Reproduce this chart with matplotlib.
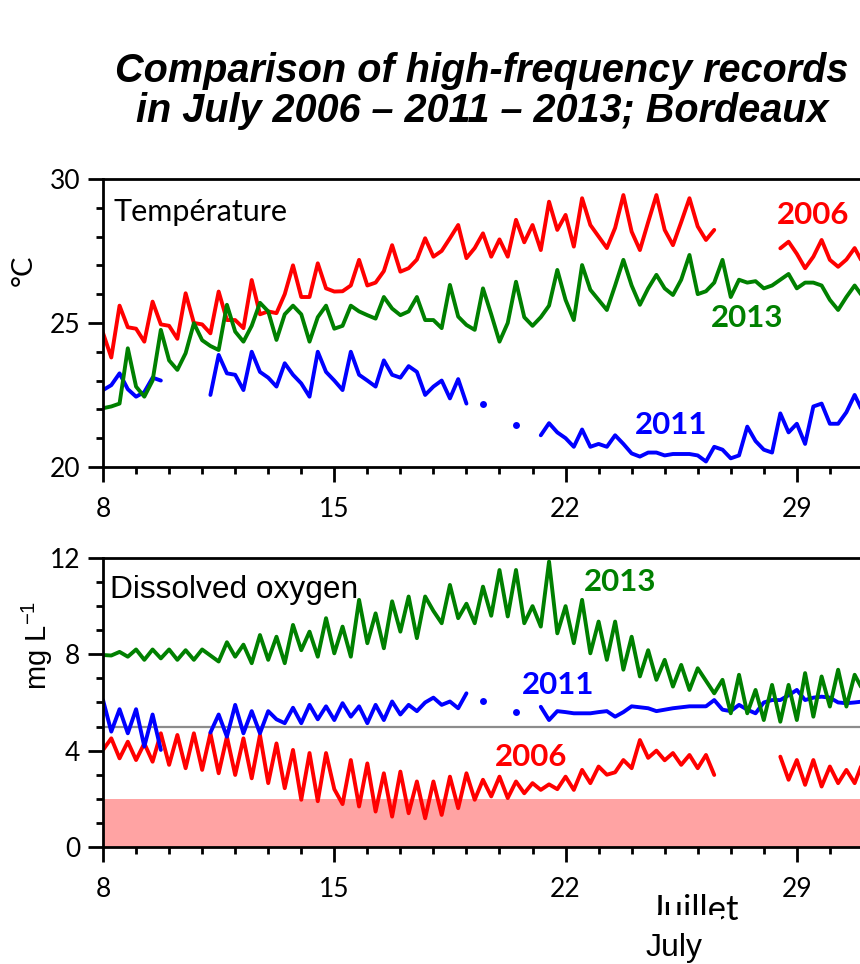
import numpy as np
import matplotlib
matplotlib.use("Agg")
import matplotlib.pyplot as plt

nan = np.nan

# time grid: every 6 h, 8 -> 31 July
t = np.arange(8, 31.001, 0.25)

# temperature (degC), one row per day (0h, 6h, 12h, 18h)
temp_2006 = [24.65, 23.8, 25.6, 24.85,  24.8, 24.35, 25.74, 24.95,  24.9, 24.45, 26.03, 25.0,
             24.95, 24.64, 26.09, 25.1,  25.1, 24.82, 26.49, 25.3,  25.4, 25.34, 26.0, 27.0,
             25.9, 25.9, 27.07, 26.2,  26.09, 26.1, 26.3, 27.19,  26.3, 26.4, 26.8, 27.7,
             26.78, 26.9, 27.2, 27.94,  27.3, 27.5, 27.94, 28.4,  27.25, 27.6, 28.11, 27.3,
             27.9, 27.3, 28.58, 27.8,  28.4, 27.53, 29.21, 28.23,  28.75, 27.65, 29.33, 28.4,
             28.0, 27.6, 28.3, 29.44,  28.17, 27.53, 28.5, 29.44,  28.23, 27.7, 28.5, 29.33,
             28.35, 27.88, 28.23, nan,  nan, nan, nan, nan,  nan, nan, 27.59, 27.82,
             27.4, 26.9, 27.3, 27.88,  27.19, 26.95, 27.2, 27.6,  27.07]
temp_2011 = [22.67, 22.84, 23.25, 22.7,  22.44, 22.6, 23.1, 23.0,  nan, nan, nan, nan,
             nan, 22.5, 23.89, 23.25,  23.2, 22.67, 24.0, 23.3,  23.1, 22.79, 23.6, 23.2,
             22.9, 22.44, 24.0, 23.3,  23.0, 22.67, 24.0, 23.2,  23.0, 22.79, 23.7, 23.2,
             23.1, 23.5, 23.3, 22.5,  22.79, 23.0, 22.38, 23.05,  22.2, nan, 22.2, nan,
             nan, nan, 21.46, nan,  nan, 21.1, 21.52, 21.2,  21.0, 20.7, 21.3, 20.7,
             20.8, 20.7, 21.1, 20.8,  20.47, 20.36, 20.5, 20.5,  20.4, 20.45, 20.45, 20.45,
             20.4, 20.19, 20.7, 20.6,  20.3, 20.4, 21.4, 20.9,  20.6, 20.5, 21.86, 21.2,
             21.5, 20.8, 22.1, 22.2,  21.5, 21.5, 21.9, 22.5,  21.9]
temp_2013 = [22.04, 22.1, 22.2, 24.12,  22.79, 22.44, 23.0, 24.76,  23.7, 23.37, 23.95, 24.99,
             24.4, 24.2, 24.06, 25.63,  24.7, 24.35, 24.9, 25.7,  25.4, 24.41, 25.3, 25.6,
             25.3, 24.35, 25.2, 25.6,  24.8, 24.9, 25.6, 25.4,  25.27, 25.15, 25.9, 25.5,
             25.27, 25.4, 25.9, 25.1,  25.1, 24.82, 26.32, 25.22,  24.93, 24.76, 26.2, 25.3,
             24.35, 25.0, 26.43, 25.2,  24.9, 25.2, 25.6, 26.84,  25.8, 25.1, 27.01, 26.15,
             25.8, 25.45, 26.3, 27.19,  26.3, 25.63, 26.2, 26.67,  26.2, 25.97, 26.5, 27.36,
             26.0, 26.1, 26.4, 27.19,  25.9, 26.5, 26.4, 26.45,  26.2, 26.3, 26.5, 26.7,
             26.2, 26.4, 26.4, 26.3,  25.8, 25.45, 25.9, 26.3,  25.9]

# dissolved oxygen (mg/L)
o2_2006 = [4.03, 4.51, 3.68, 4.37,  3.61, 4.3, 3.54, 4.72,  3.41, 4.65, 3.27, 4.72,
           3.2, 4.72, 3.06, 4.58,  2.99, 4.51, 2.85, 4.65,  2.65, 4.3, 2.44, 4.03,
           1.96, 3.9, 1.9, 3.9,  2.4, 1.78, 3.61, 1.68,  3.47, 1.47, 3.06, 1.26,
           3.13, 1.4, 2.72, 1.19,  2.72, 1.33, 2.92, 1.61,  3.06, 1.96, 2.79, 2.1,
           2.92, 2.03, 2.72, 2.23,  2.65, 2.37, 2.6, 2.4,  2.92, 2.37, 3.2, 2.65,
           3.34, 3.0, 3.1, 3.61,  3.27, 4.44, 3.7, 4.0,  3.6, 3.9, 3.41, 3.82,
           3.27, 3.82, 2.99, nan,  nan, nan, nan, nan,  nan, nan, 3.75, 2.79,
           3.61, 2.58, 3.61, 2.51,  3.34, 2.65, 3.2, 2.65,  3.54]
o2_2011 = [6.1, 4.79, 5.72, 4.72,  5.72, 4.17, 5.5, 4.03,  nan, nan, nan, nan,
           nan, 4.75, 5.5, 4.58,  5.9, 4.72, 5.64, 4.72,  5.64, 5.3, 5.14, 5.78,
           5.14, 5.9, 5.3, 5.84,  5.27, 5.97, 5.41, 5.84,  5.14, 5.9, 5.27, 6.04,
           5.5, 5.9, 5.64, 6.0,  6.2, 5.9, 6.04, 5.76,  6.38, nan, 6.05, nan,
           nan, nan, 5.6, nan,  nan, 5.82, 5.27, 5.64,  5.6, 5.55, 5.55, 5.55,
           5.6, 5.64, 5.41, 5.6,  5.84, 5.8, 5.76, 5.64,  5.7, 5.76, 5.8, 5.84,
           5.84, 5.84, 6.1, 5.7,  5.64, 5.9, 5.7, 5.55,  6.0, 6.1, 6.1, 6.3,
           6.52, 6.1, 6.2, 6.24,  6.2, 6.0, 5.97, 6.0,  6.04]
o2_2013 = [7.97, 7.95, 8.1, 7.9,  8.2, 7.77, 8.2, 7.83,  8.2, 7.77, 8.17, 7.77,
           8.2, 7.95, 7.7, 8.5,  7.9, 8.4, 7.63, 8.8,  7.77, 8.73, 7.63, 9.22,
           8.17, 8.94, 7.9, 9.5,  8.04, 9.15, 7.9, 10.26,  8.46, 9.7, 8.25, 10.2,
           8.94, 10.4, 8.67, 10.4,  9.8, 9.29, 10.88, 9.5,  10.1, 9.29, 10.81, 9.6,
           11.5, 9.57, 11.5, 9.29,  10.0, 9.15, 11.85, 8.87,  10.0, 8.46, 10.26, 8.04,
           9.36, 7.77, 9.36, 7.36,  8.73, 7.08, 8.17, 6.94,  7.77, 6.66, 7.56, 6.52,
           7.42, 6.9, 6.38, 6.94,  5.55, 7.15, 5.55, 6.52,  5.27, 6.73, 5.2, 6.73,
           5.27, 7.22, 5.41, 7.08,  5.83, 7.36, 5.83, 7.15,  6.5]

years = ["2006", "2011", "2013"]
colors = {"2006": "#ff0000", "2011": "#0000ff", "2013": "#008000"}
day_ticks = [8, 15, 22, 29]

plt.rcParams["mathtext.fontset"] = "custom"
plt.rcParams["mathtext.rm"] = "Liberation Sans"
plt.rcParams["mathtext.it"] = "Liberation Sans"

fig = plt.figure(figsize=(8.6, 9.64), dpi=100)
ax1 = fig.add_axes([0.1198, 0.5156, 0.922, 0.2988])
ax2 = fig.add_axes([0.1198, 0.1214, 0.922, 0.2998])


def style_axes(ax, ymin, ymax, ylabels):
    ax.set_xlim(8, 32)
    ax.set_ylim(ymin, ymax)
    for s in ["left", "top", "bottom"]:
        ax.spines[s].set_linewidth(2)
    ax.spines["right"].set_visible(False)
    ax.set_xticks(day_ticks)
    ax.set_xticks(np.arange(8, 32), minor=True)
    ax.set_yticks(ylabels)
    ax.set_yticks(np.arange(ymin, ymax + 1), minor=True)
    ax.tick_params(which="major", direction="out", length=10.5, width=2)
    ax.tick_params(axis="x", which="major", pad=11)
    ax.tick_params(axis="y", which="major", pad=6)
    ax.tick_params(which="minor", direction="out", length=5, width=2)
    for lab in ax.get_xticklabels() + ax.get_yticklabels():
        lab.set_fontfamily("Lato")
        lab.set_fontsize(19)


def draw(ax, series):
    for yr in years:
        v = np.array(series[yr], dtype=float)
        ax.plot(t, v, color=colors[yr], lw=2.8, solid_joinstyle="round",
                solid_capstyle="round")
        # single readings between gaps show as short dashes
        ok = np.isfinite(v)
        prev = np.r_[False, ok[:-1]]
        nxt = np.r_[ok[1:], False]
        lone = ok & ~prev & ~nxt
        ax.plot(t[lone], v[lone], ls="none", marker="o", ms=5, mew=0,
                color=colors[yr])


label_kw = dict(fontsize=22.5, family="Lato", weight="bold", ha="center", va="center")

# temperature panel
draw(ax1, {"2006": temp_2006, "2011": temp_2011, "2013": temp_2013})
style_axes(ax1, 20, 30, [20, 25, 30])
ax1.text(0.013, 0.885, "Température", transform=ax1.transAxes, fontsize=22,
         family="Lato", va="center", ha="left")
ax1.text(29.5, 28.75, "2006", color=colors["2006"], **label_kw)
ax1.text(27.5, 25.17, "2013", color=colors["2013"], **label_kw)
ax1.text(25.2, 21.46, "2011", color=colors["2011"], **label_kw)
fig.text(24 / 860, 1 - 270 / 964, "°C", rotation=90, fontsize=21, family="Lato",
         ha="center", va="center")

# oxygen panel
ax2.axhspan(0, 2, color="#ffa3a3", lw=0, zorder=0)
ax2.axhline(5, color="#8c8c8c", lw=1.6, zorder=1)
draw(ax2, {"2006": o2_2006, "2011": o2_2011, "2013": o2_2013})
style_axes(ax2, 0, 12, [0, 4, 8, 12])
ax2.text(0.009, 0.889, "Dissolved oxygen", transform=ax2.transAxes, fontsize=22.8,
         family="Liberation Sans", va="center", ha="left")
ax2.text(23.64, 11.0, "2013", color=colors["2013"], **label_kw)
ax2.text(21.77, 6.73, "2011", color=colors["2011"], **label_kw)
ax2.text(20.95, 3.74, "2006", color=colors["2006"], **label_kw)
fig.text(37 / 860, 1 - 645 / 964, "mg L$^{-1}$", rotation=90, fontsize=21,
         family="Liberation Sans", ha="center", va="center")

# title
fig.text(482 / 860, 1 - 91 / 964,
         "Comparison of high-frequency records\nin July 2006 \u2013 2011 \u2013 2013; Bordeaux",
         fontsize=28.5, family="Liberation Sans", weight="bold", style="italic",
         ha="center", va="center", linespacing=1.1)

# month labels at the bottom
fig.text(694 / 860, 1 - 910 / 964, "Juillet", fontsize=25, family="Lato",
         ha="center", va="center")
fig.text(674 / 860, 1 - 956 / 964, "July", fontsize=23, family="Liberation Sans",
         ha="center", va="baseline",
         bbox=dict(facecolor="white", edgecolor="none", pad=13))

fig.savefig("out.png", dpi=100)
